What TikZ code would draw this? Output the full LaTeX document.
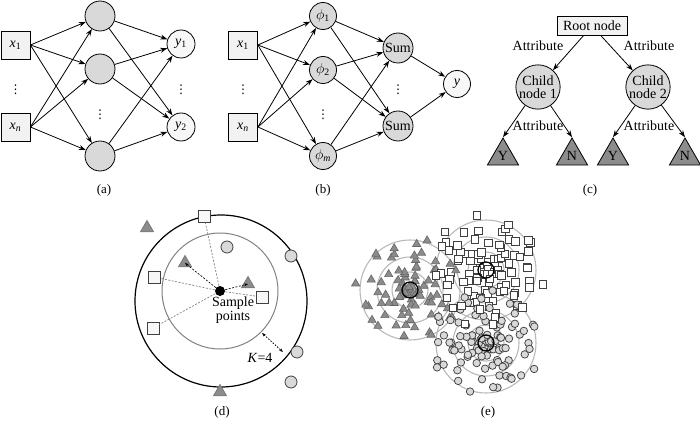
\documentclass[tikz,border=0pt]{standalone}
\usepackage{fontspec}
\setmainfont{Liberation Serif}
\newfontfamily\dvfont{DejaVu Sans}
\usetikzlibrary{arrows.meta,shapes.geometric}
\definecolor{boxfill}{HTML}{F2F2F2}
\definecolor{hidfill}{HTML}{D9D9D9}
\definecolor{outfill}{HTML}{F7F7F7}
\definecolor{trifill}{HTML}{8C8C8C}
\definecolor{ringgray}{HTML}{B8B8B8}
\definecolor{mkline}{HTML}{404040}
\begin{document}
\begin{tikzpicture}[x=1pt,y=-1pt,line width=0.8pt,
  every node/.style={font=\fontsize{14}{13.5}\selectfont},
  inbox/.style={draw,fill=boxfill,minimum width=29pt,minimum height=28pt,inner sep=0pt},
  hid/.style={circle,draw,fill=hidfill,minimum size=30pt,inner sep=0pt},
  outc/.style={circle,draw,fill=outfill,minimum size=28pt,inner sep=0pt},
  phic/.style={circle,draw,fill=hidfill,minimum size=27pt,inner sep=0pt},
  sumc/.style={circle,draw,fill=hidfill,minimum size=30pt,inner sep=0pt},
  childc/.style={circle,draw,fill=hidfill,minimum size=42pt,inner sep=0pt,align=center},
  leaf/.style={regular polygon,regular polygon sides=3,draw,fill=trifill,minimum size=36pt,inner sep=0pt},
  arr/.style={-{Stealth[length=7pt,width=5pt]}},
  vd/.style={inner sep=0pt,font=\dvfont\fontsize{12}{12}\selectfont},
  capt/.style={font=\fontsize{13}{13}\selectfont},
  dsq/.style={draw=mkline,fill=outfill,minimum size=12pt,inner sep=0pt},
  dci/.style={circle,draw=mkline,fill=hidfill,minimum size=12pt,inner sep=0pt},
  dtr/.style={regular polygon,regular polygon sides=3,draw=mkline!70,fill=trifill,minimum size=15pt,inner sep=0pt},
  esq/.style={draw=mkline,fill=white,minimum size=7.5pt,inner sep=0pt,line width=0.75pt},
  eci/.style={circle,draw=mkline,fill=hidfill,minimum size=7.5pt,inner sep=0pt,line width=0.75pt},
  etr/.style={regular polygon,regular polygon sides=3,draw=mkline!80,fill=trifill,minimum size=9.5pt,inner sep=0pt,line width=0.6pt},
  ring/.style={draw=ringgray,line width=1.1pt}
]
\useasboundingbox (0,0) rectangle (700,425);

% ---------------- (a) ----------------
\node[inbox] (ax1) at (15.5,45) {\textit{x}\textsubscript{1}};
\node[inbox] (axn) at (15.5,127) {\textit{x}\textsubscript{\textit{n}}};
\node[vd] (adx) at (15.5,90) {⋮};
\node[hid] (ah1) at (100,16) {};
\node[hid] (ah2) at (100,69) {};
\node[hid] (ah3) at (100,156) {};
\node[vd] (adh) at (100,115) {⋮};
\node[outc] (ay1) at (181,44) {\textit{y}\textsubscript{1}};
\node[outc] (ay2) at (181,127) {\textit{y}\textsubscript{2}};
\node[vd] (ady) at (181,90) {⋮};
\foreach \a in {ax1,axn}{\foreach \h in {ah1,ah2,ah3}{\draw[arr] (\a.east) -- (\h);}}
\foreach \h in {ah1,ah2,ah3}{\foreach \y in {ay1,ay2}{\draw[arr] (\h) -- (\y);}}
\node[capt] (capa) at (104,190) {(a)};

% ---------------- (b) ----------------
\node[inbox] (bx1) at (243,45) {\textit{x}\textsubscript{1}};
\node[inbox] (bxn) at (243,127) {\textit{x}\textsubscript{\textit{n}}};
\node[vd] (bdx) at (243,90) {⋮};
\node[phic] (bp1) at (323,16) {$\phi$\textsubscript{1}};
\node[phic] (bp2) at (323,70) {$\phi$\textsubscript{2}};
\node[phic] (bp3) at (323,156) {$\phi$\textsubscript{\textit{m}}};
\node[vd] (bdp) at (323,115) {⋮};
\node[sumc] (bs1) at (398,48) {Sum};
\node[sumc] (bs2) at (398,126) {Sum};
\node[vd] (bds) at (398,90) {⋮};
\node[phic,fill=outfill] (by) at (457,84) {\textit{y}};
\foreach \a in {bx1,bxn}{\foreach \h in {bp1,bp2,bp3}{\draw[arr] (\a.east) -- (\h);}}
\foreach \h in {bp1,bp2,bp3}{\foreach \s in {bs1,bs2}{\draw[arr] (\h) -- (\s);}}
\foreach \s in {bs1,bs2}{\draw[arr] (\s) -- (by);}
\node[capt] (capb) at (323,190) {(b)};

% ---------------- (c) ----------------
\node[draw,fill=boxfill,minimum width=70pt,minimum height=19pt,inner sep=0pt] (root) at (592,26) {Root node};
\node[childc] (c1) at (538,87) {Child\\node 1};
\node[childc] (c2) at (648,87) {Child\\node 2};
\node[leaf] (y1) at (503,156) {Y};
\node[leaf] (n1) at (572,156) {N};
\node[leaf] (y2) at (613,156) {Y};
\node[leaf] (n2) at (685,156) {N};
\draw[arr] (root) -- (c1);
\draw[arr] (root) -- (c2);
\draw[arr] (c1) -- (y1.corner 1);
\draw[arr] (c1) -- (n1.corner 1);
\draw[arr] (c2) -- (y2.corner 1);
\draw[arr] (c2) -- (n2.corner 1);
\node (la1) at (538,46) {Attribute};
\node (la2) at (649,46) {Attribute};
\node[inner sep=0pt] (la3) at (538,126) {Attribute};
\node[inner sep=0pt] (la4) at (649,126) {Attribute};
\node[capt] (capc) at (590,190) {(c)};

% ---------------- (d) ----------------
\node[circle,draw,line width=1.2pt,minimum size=172pt,inner sep=0pt] (dout) at (221,301) {};
\node[circle,draw=gray,line width=1pt,minimum size=116pt,inner sep=0pt] (din) at (220,291) {};
\node[dtr] (dt1) at (147,228) {};
\node[dsq] (ds1) at (204,216) {};
\node[dci] (dc1) at (227,247) {};
\node[dci] (dc2) at (291,256) {};
\node[dtr] (dt2) at (185,263) {};
\node[dsq] (ds2) at (154,277) {};
\node[dtr] (dt3) at (248,284) {};
\node[dsq] (ds3) at (262,297) {};
\node[dsq] (ds4) at (153,328) {};
\node[dci] (dc3) at (297,352) {};
\node[dci] (dc4) at (291,382) {};
\node[dtr] (dt4) at (220,392) {};
\node[circle,fill=black,minimum size=10pt,inner sep=0pt] (sp) at (220,291) {};
\foreach \s in {ds1,ds2,ds3,ds4}{\draw[gray,dash pattern=on 2pt off 1.5pt,line width=0.7pt] (sp) -- (\s);}
\foreach \t in {dt2,dt3}{\draw[dash pattern=on 2pt off 1.5pt,line width=0.7pt,-{Stealth[length=4pt,width=3pt]}] (sp) -- (\t.center);}
\node[align=center] (splab) at (233,310) {Sample\\points};
\coordinate (ka) at (262,333);
\coordinate (kb) at (283,352);
\draw[dash pattern=on 1.5pt off 1.5pt,line width=0.8pt,{Stealth[length=4pt,width=3pt]}-{Stealth[length=4pt,width=3pt]}] (ka) -- (kb);
\node (klab) at (260,358) {\textit{K}=4};
\node[capt] (capd) at (222,412) {(d)};

% ---------------- (e) ----------------
\foreach \cx/\cy in {410/290,486/270,486/343}{
  \foreach \r in {50,33,18}{\draw[ring] (\cx,\cy) circle[radius=\r];}
}
% interleaved sunflower scatter with jitter
\pgfmathsetseed{11}
\foreach \i in {1,...,100}{
  \pgfmathsetmacro\rs{56*(\i/100)^0.95+3*rand}
  \pgfmathsetmacro\as{\i*137.508+25*rand+60}
  \node[esq] at ({486+\rs*cos(\as)},{270+\rs*sin(\as)}) {};
  \pgfmathsetmacro\rc{54*(\i/100)^0.95+3*rand}
  \pgfmathsetmacro\ac{\i*137.508+25*rand+120}
  \node[eci] at ({486+\rc*cos(\ac)},{343+\rc*sin(\ac)}) {};
  \ifnum\i<81
    \pgfmathsetmacro\rt{53*(\i/80)^0.95+3*rand}
    \pgfmathsetmacro\at{\i*137.508+25*rand}
    \node[etr] at ({410+\rt*cos(\at)},{290+\rt*sin(\at)}) {};
  \fi
}
\foreach \cx/\cy in {410/290,486/270,486/343}{
  \draw[line width=1.3pt] (\cx,\cy) circle[radius=8];
}
\node[capt] (cape) at (488,412) {(e)};
\end{tikzpicture}
\end{document}
